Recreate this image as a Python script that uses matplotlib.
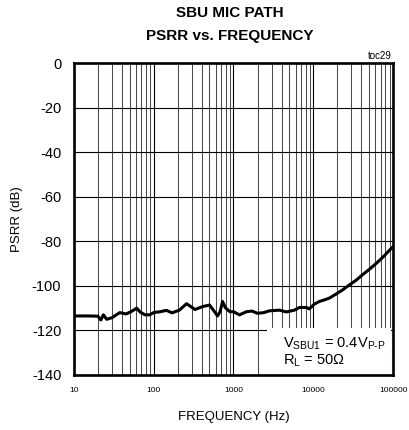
import matplotlib
matplotlib.use('Agg')
import matplotlib.pyplot as plt
from matplotlib.patches import Rectangle
import numpy as np

# PSRR curve
freq_hz = [10, 15, 20, 21.8, 23.5, 25.8, 30, 37.6, 45, 52, 61.3, 68, 78, 89, 100, 120,
           145, 170, 210, 258, 330, 410, 501, 580, 631, 680, 729, 790, 900, 1000, 1189,
           1450, 1700, 1995, 2400, 2818, 3758, 4597, 5788, 6683, 8175, 8913, 10292,
           11885, 13725, 15849, 19387, 23041, 28184, 34475, 40973, 50119, 61306,
           72862, 94406, 100000]
psrr_db = [-113.5, -113.5, -113.6, -115.3, -113.0, -115.0, -114.3, -112.0, -112.6,
           -111.6, -110.0, -111.8, -113.0, -113.0, -112.0, -111.6, -111.0, -112.1,
           -110.9, -108.0, -110.6, -109.3, -108.6, -111.6, -113.5, -111.6, -107.0,
           -109.8, -111.6, -111.6, -113.0, -111.6, -111.3, -112.3, -112.0, -111.2,
           -110.9, -111.7, -110.9, -109.7, -109.7, -110.3, -108.2, -107.0, -106.3,
           -105.5, -103.6, -101.9, -99.6, -97.4, -95.1, -92.6, -89.9, -87.4, -83.2,
           -82.4]

y_ticks = [0, -20, -40, -60, -80, -100, -120, -140]
x_ticks = [10, 100, 1000, 10000, 100000]
x_tick_labels = ['10', '100', '1000', '10000', '100000']

plt.rcParams['font.family'] = ['Liberation Sans', 'DejaVu Sans']
plt.rcParams['mathtext.fontset'] = 'custom'
plt.rcParams['mathtext.rm'] = 'Liberation Sans'

fig = plt.figure(figsize=(4.1, 4.3), dpi=100)
ax = fig.add_axes([0.180, 0.128, 0.779, 0.725])

ax.set_xscale('log')
ax.set_xlim(10, 100000)
ax.set_ylim(-140, 0)

# grid: minor verticals gray, decades and horizontals black
for dec in [10, 100, 1000, 10000]:
    for m in range(2, 10):
        ax.axvline(dec * m, color='#4a4a4a', lw=0.75, zorder=1)
    if dec > 10:
        ax.axvline(dec, color='black', lw=0.8, zorder=1)
for yv in y_ticks[1:-1]:
    ax.axhline(yv, color='black', lw=0.8, zorder=1)

# white box behind the conditions text
ax.add_patch(Rectangle((2600, -140), 95000 - 2600, 21.2, facecolor='white',
                       edgecolor='none', zorder=2))

ax.plot(freq_hz, psrr_db, color='black', lw=2.2, zorder=3)

ax.set_xticks(x_ticks)
ax.set_xticklabels(x_tick_labels, fontsize=6)
ax.xaxis.set_minor_locator(matplotlib.ticker.NullLocator())
ax.set_yticks(y_ticks)
ax.set_yticklabels([str(v) for v in y_ticks], fontsize=10.5)
ax.tick_params(axis='both', length=0)
ax.tick_params(axis='x', pad=9)
ax.tick_params(axis='y', pad=9)

for s in ax.spines.values():
    s.set_linewidth(1.9)
    s.set_zorder(5)

ax.set_xlabel('FREQUENCY (Hz)', fontsize=9.5, labelpad=12)
ax.set_ylabel('PSRR (dB)', fontsize=9.5, labelpad=6)

fig.text(0.561, 0.969, 'SBU MIC PATH', ha='center', va='center',
         fontsize=11, fontweight='bold')
fig.text(0.561, 0.916, 'PSRR vs. FREQUENCY', ha='center', va='center',
         fontsize=11, fontweight='bold')
fig.text(0.955, 0.870, 'toc29', ha='right', va='center', fontsize=7)

ax.text(0.655, 0.100,
        r'V$_{\mathregular{SBU1}}$ = 0.4V$_{\mathregular{P}\text{-}\mathregular{P}}$',
        transform=ax.transAxes, fontsize=10.5, va='center', ha='left', zorder=4)
ax.text(0.655, 0.045, r'R$_{\mathregular{L}}$ = 50Ω',
        transform=ax.transAxes, fontsize=10.5, va='center', ha='left', zorder=4)

fig.savefig('out.png', dpi=100)
